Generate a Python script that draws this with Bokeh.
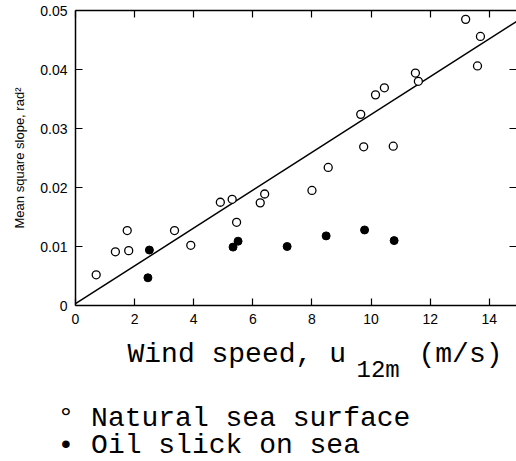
from bokeh.plotting import figure
from bokeh.models import Label, LinearAxis, FixedTicker, Range1d, Title
from bokeh.layouts import column
from bokeh.embed import file_html
from bokeh.resources import INLINE

# ---- data ----
nat_u = [0.7, 1.35, 1.75, 1.8, 3.35, 3.9, 4.9, 5.3, 5.45, 6.25, 6.4, 8.0, 8.55,
         9.65, 9.75, 10.15, 10.45, 10.75, 11.5, 11.6, 13.2, 13.6, 13.7]
nat_s = [0.0052, 0.0091, 0.0127, 0.0093, 0.0127, 0.0102, 0.0175, 0.0180, 0.0141,
         0.0174, 0.0189, 0.0195, 0.0234, 0.0324, 0.0269, 0.0357, 0.0369, 0.0270,
         0.0394, 0.0380, 0.0485, 0.0406, 0.0456]
oil_u = [2.45, 2.5, 5.33, 5.5, 7.16, 8.48, 9.78, 10.78]
oil_s = [0.0047, 0.0094, 0.0099, 0.0109, 0.0100, 0.0118, 0.0128, 0.0110]
fit_u = [0.0, 15.0]
fit_s = [0.0003, 0.0484]

x_ticks = [0, 2, 4, 6, 8, 10, 12, 14]
y_ticks = [0, 0.01, 0.02, 0.03, 0.04, 0.05]
y_tick_labels = ["0", "0.01", "0.02", "0.03", "0.04", "0.05"]

x_label_main = "Wind speed, u"
x_label_sub = "12m"
x_label_unit = "(m/s)"
y_label = "Mean square slope, rad\u00b2"
legend_nat = "\u00b0 Natural sea surface"
legend_oil = "\u2022 Oil slick on sea"

# ---- layout ----
W, H = 516, 461
H1 = 330                      # height of the plot part
H2 = 58                       # x-label strip
H3 = H - H1 - H2              # legend strip
LEFT, TOP, BOTTOM = 75, 10, 305
XMAX, YMAX = 14.92, 0.05

p = figure(width=W, height=H1, output_backend="svg", toolbar_location=None,
           x_range=(0, XMAX), y_range=(0, YMAX),
           min_border_left=LEFT, min_border_right=0, min_border_top=TOP,
           min_border_bottom=H1 - BOTTOM)
p.outline_line_color = None
p.xgrid.grid_line_color = None
p.ygrid.grid_line_color = None

tick_font = "Liberation Sans"

def style_axis(ax, ticks, show_labels=True, line=True):
    ax.ticker = FixedTicker(ticks=ticks)
    ax.minor_tick_line_color = None
    ax.major_tick_in = 7
    ax.major_tick_out = 0
    ax.major_tick_line_color = "black"
    ax.major_tick_line_width = 1.2
    ax.axis_line_color = "black" if line else None
    ax.axis_line_width = 1.5
    if show_labels:
        ax.major_label_text_font = tick_font
        ax.major_label_text_font_size = "14px"
        ax.major_label_text_color = "black"
        ax.major_label_standoff = 8
    else:
        ax.major_label_text_font_size = "0px"
        ax.major_label_text_color = None
        ax.major_label_standoff = 0

xa = p.xaxis[0]
style_axis(xa, x_ticks)
ya = p.yaxis[0]
style_axis(ya, y_ticks)
ya.major_label_overrides = {t: s for t, s in zip(y_ticks, y_tick_labels)}
ya.axis_label = y_label
ya.axis_label_text_font = tick_font
ya.axis_label_text_font_size = "13px"
ya.axis_label_text_font_style = "normal"
ya.axis_label_text_color = "black"
ya.axis_label_standoff = 10

top_ax = LinearAxis()
style_axis(top_ax, x_ticks, show_labels=False)
p.add_layout(top_ax, "above")
right_ax = LinearAxis()
style_axis(right_ax, y_ticks, show_labels=False, line=False)
p.add_layout(right_ax, "right")

p.line(fit_u, fit_s, line_color="black", line_width=1.5)
p.scatter(nat_u, nat_s, marker="circle", size=8, fill_color="white",
          line_color="black", line_width=1.3)
p.scatter(oil_u, oil_s, marker="circle", size=8, fill_color="black",
          line_color="black", line_width=1)

mono = "Liberation Mono"

# ---- x-label strip (frame aligned with the plot frame) ----
q = figure(width=W, height=H2, output_backend="svg", toolbar_location=None,
           x_range=Range1d(0, W - LEFT), y_range=Range1d(H2, 0),
           x_axis_type=None, y_axis_type=None,
           min_border_left=LEFT, min_border_right=0,
           min_border_top=0, min_border_bottom=0)
q.grid.visible = False
q.outline_line_color = None

Y_SHIFT = 9
def add_text(txt, px, py, size):
    q.add_layout(Label(x=px - LEFT, y=py - H1 - Y_SHIFT, text=txt, text_font=mono,
                       text_font_size=size, text_color="black",
                       text_baseline="alphabetic", text_align="left"))

add_text(x_label_main, 127, 363, "28px")
add_text(x_label_sub, 356, 379, "24px")
add_text(x_label_unit, 418, 363, "28px")

# ---- legend strip: a title below an empty frame ----
r = figure(width=W, height=H3, output_backend="svg", toolbar_location=None,
           x_axis_type=None, y_axis_type=None,
           min_border_left=LEFT, min_border_right=0,
           min_border_top=0, min_border_bottom=8)
r.grid.visible = False
r.outline_line_color = None
leg = Title(text=legend_nat + "\n" + legend_oil, align="left", offset=-18,
            standoff=0, text_font=mono, text_font_size="28px",
            text_font_style="normal", text_color="black",
            text_line_height=0.9)
r.add_layout(leg, "below")

layout = column(p, q, r, spacing=0)
open("out.html", "w").write(file_html(layout, INLINE))
